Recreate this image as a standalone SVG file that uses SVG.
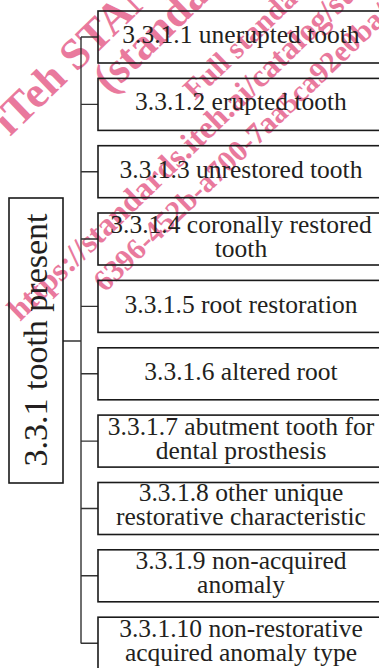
<svg xmlns="http://www.w3.org/2000/svg" width="379" height="668" viewBox="0 0 379 668">
<style>
.wm{font-family:"Liberation Serif","Times New Roman",serif;font-weight:bold;fill:#e9799d}
.box{fill:none;stroke:#1a1a1a;stroke-width:1.6}
.lbl{font-family:"Liberation Serif","Times New Roman",serif;font-size:25.5px;fill:#231f20;text-anchor:middle}
.conn{fill:none;stroke:#333;stroke-width:1.4}
</style>
<rect width="379" height="668" fill="#fff"/>
<g id="watermark">
<text class="wm" font-size="44" transform="translate(10,137) rotate(-44)">iTeh STANDARD PREVIEW</text>
<text class="wm" font-size="44" transform="translate(110,95) rotate(-44)">(standards.iteh.ai)</text>
<text class="wm" font-size="30" transform="translate(195,101) rotate(-44)">Full standard:</text>
<text class="wm" font-size="32" transform="translate(20,322) rotate(-44)">https://standards.iteh.ai/catalog/standards/sist/</text>
<text class="wm" font-size="30" transform="translate(105,293) rotate(-44)">6396-452b-a700-7aa5ca92e0ba/</text>
</g>
<g id="connectors">
<path class="conn" d="M63,341 H81 M81,37 V643.5"/>
<path class="conn" d="M81,37 H98 M81,104.4 H98 M81,171.7 H98 M81,239 H98 M81,306.4 H98 M81,373.8 H98 M81,441.1 H98 M81,508.5 H98 M81,575.8 H98 M81,643.2 H98"/>
</g>
<g id="n0">
<rect class="box" x="9" y="198" width="54" height="285"/>
<text font-family="Liberation Serif, Times New Roman, serif" font-size="34" fill="#231f20" text-anchor="middle" transform="translate(47,340) rotate(-90)">3.3.1 tooth present</text>
</g>
<g id="n1"><rect class="box" x="98" y="11" width="300" height="52"/><text class="lbl" x="241" y="43">3.3.1.1 unerupted tooth</text></g>
<g id="n2"><rect class="box" x="98" y="78.4" width="300" height="52"/><text class="lbl" x="241" y="110.4">3.3.1.2 erupted tooth</text></g>
<g id="n3"><rect class="box" x="98" y="145.7" width="300" height="52"/><text class="lbl" x="241" y="177.5">3.3.1.3 unrestored tooth</text></g>
<g id="n4"><rect class="box" x="98" y="213" width="300" height="52"/><text class="lbl" x="241" y="232.5">3.3.1.4 coronally restored</text><text class="lbl" x="241" y="256.5">tooth</text></g>
<g id="n5"><rect class="box" x="98" y="280.4" width="300" height="52"/><text class="lbl" x="241" y="312.5">3.3.1.5 root restoration</text></g>
<g id="n6"><rect class="box" x="98" y="347.8" width="300" height="52"/><text class="lbl" x="241" y="380">3.3.1.6 altered root</text></g>
<g id="n7"><rect class="box" x="98" y="415.1" width="300" height="52"/><text class="lbl" x="241" y="435">3.3.1.7 abutment tooth for</text><text class="lbl" x="241" y="459">dental prosthesis</text></g>
<g id="n8"><rect class="box" x="98" y="482.5" width="300" height="52"/><text class="lbl" x="241" y="501">3.3.1.8 other unique</text><text class="lbl" x="241" y="525">restorative characteristic</text></g>
<g id="n9"><rect class="box" x="98" y="549.8" width="300" height="52"/><text class="lbl" x="241" y="568.5">3.3.1.9 non-acquired</text><text class="lbl" x="241" y="592.5">anomaly</text></g>
<g id="n10"><rect class="box" x="98" y="617.2" width="300" height="52"/><text class="lbl" x="241" y="637">3.3.1.10 non-restorative</text><text class="lbl" x="241" y="660.5">acquired anomaly type</text></g>
</svg>
